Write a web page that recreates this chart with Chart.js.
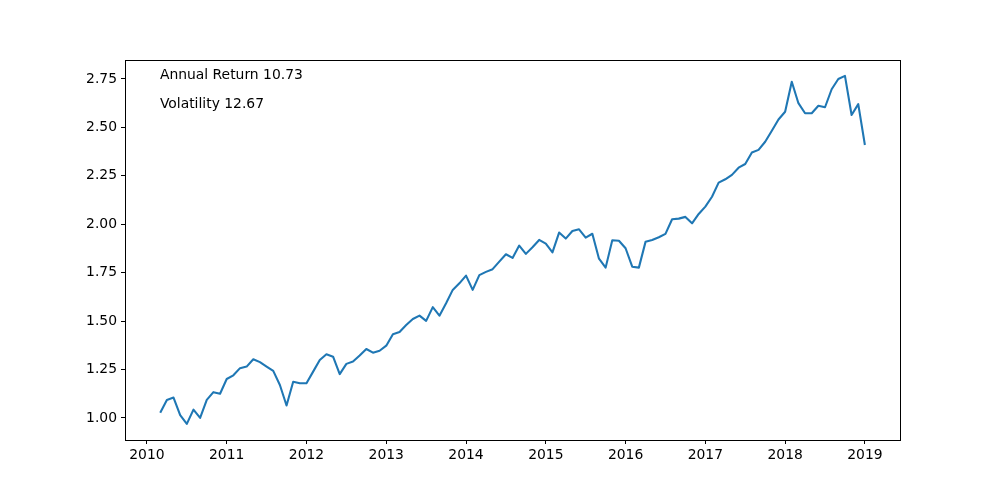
<!DOCTYPE html>
<html>
<head>
<meta charset="utf-8">
<script src="https://cdn.jsdelivr.net/npm/chart.js@4/dist/chart.umd.min.js"></script>
<style>
html,body{margin:0;padding:0;background:#fff;}
#wrap{width:1000px;height:496px;position:relative;}
</style>
</head>
<body>
<div id="wrap"><canvas id="c" width="1000" height="496"></canvas></div>
<script>
// Month-end observations, Feb 2010 .. Dec 2018
const startYear = 2010, startMonth = 2;
const values = [
  1.027,1.093,1.105,1.014,0.969,1.043,1.000,1.093,1.133,1.125,1.201,
  1.220,1.257,1.265,1.303,1.288,1.265,1.243,1.170,1.064,1.187,1.179,
  1.179,1.239,1.299,1.329,1.316,1.226,1.279,1.291,1.322,1.356,1.337,1.347,1.373,
  1.432,1.444,1.480,1.511,1.528,1.501,1.572,1.528,1.592,1.661,1.695,1.735,1.661,
  1.737,1.754,1.768,1.807,1.845,1.826,1.890,1.847,1.881,1.919,1.900,1.855,
  1.957,1.926,1.965,1.974,1.931,1.951,1.822,1.776,1.917,1.915,1.876,1.781,
  1.776,1.909,1.919,1.933,1.950,2.026,2.029,2.038,2.005,2.053,2.091,2.142,
  2.215,2.232,2.255,2.292,2.311,2.370,2.384,2.426,2.483,2.541,2.581,2.736,
  2.625,2.573,2.573,2.612,2.604,2.697,2.750,2.766,2.564,2.620,2.409
];
const xTicks = [2010,2011,2012,2013,2014,2015,2016,2017,2018,2019];
const yTicks = [1.00,1.25,1.50,1.75,2.00,2.25,2.50,2.75];
const annotations = ["Annual Return 10.73", "Volatility 12.67"];

const points = values.map((v, i) => {
  const m = startMonth + i; // months since start of startYear (month-end)
  return { x: startYear + m / 12, y: v };
});

const FONT = { family: "'DejaVu Sans', sans-serif", size: 13.9 };

const frame = {
  id: 'frame',
  afterDraw(chart) {
    const { ctx, chartArea: a } = chart;
    ctx.save();
    ctx.strokeStyle = '#000';
    ctx.lineWidth = 1;
    ctx.strokeRect(Math.round(a.left) + 0.5, Math.round(a.top) + 0.5,
      Math.round(a.right - a.left), Math.round(a.bottom - a.top));
    ctx.fillStyle = '#000';
    ctx.font = FONT.size + "px 'DejaVu Sans', sans-serif";
    ctx.textBaseline = 'middle';
    ctx.textAlign = 'left';
    const w = a.right - a.left;
    const x0 = a.left + 0.045 * w;
    ctx.fillText(annotations[0], x0, a.top + 15.5);
    ctx.fillText(annotations[1], x0, a.top + 44.5);
    ctx.restore();
  }
};

new Chart(document.getElementById('c'), {
  type: 'line',
  data: {
    datasets: [{
      data: points,
      borderColor: '#1f77b4',
      borderWidth: 2.08,
      pointRadius: 0,
      tension: 0,
      fill: false,
      borderJoinStyle: 'round',
      borderCapStyle: 'butt'
    }]
  },
  options: {
    responsive: false,
    animation: false,
    events: [],
    layout: { padding: { top: 60, right: 100, left: 0, bottom: 0 } },
    plugins: { legend: { display: false }, tooltip: { enabled: false } },
    scales: {
      x: {
        type: 'linear',
        min: 2009.725,
        max: 2019.44,
        afterFit(s) { s.height = 56; },
        afterBuildTicks(s) { s.ticks = xTicks.map(v => ({ value: v })); },
        grid: { drawOnChartArea: false, drawTicks: true, tickLength: 4, color: '#000', tickWidth: 1 },
        border: { display: false },
        ticks: { color: '#000', font: FONT, padding: 3, maxRotation: 0, autoSkip: false,
          callback: v => String(v) }
      },
      y: {
        type: 'linear',
        min: 0.886,
        max: 2.848,
        afterFit(s) { s.width = 125; },
        afterBuildTicks(s) { s.ticks = yTicks.map(v => ({ value: v })); },
        grid: { drawOnChartArea: false, drawTicks: true, tickLength: 4, color: '#000', tickWidth: 1 },
        border: { display: false },
        ticks: { color: '#000', font: FONT, padding: 4, autoSkip: false,
          callback: v => Number(v).toFixed(2) }
      }
    }
  },
  plugins: [frame]
});
</script>
</body>
</html>
